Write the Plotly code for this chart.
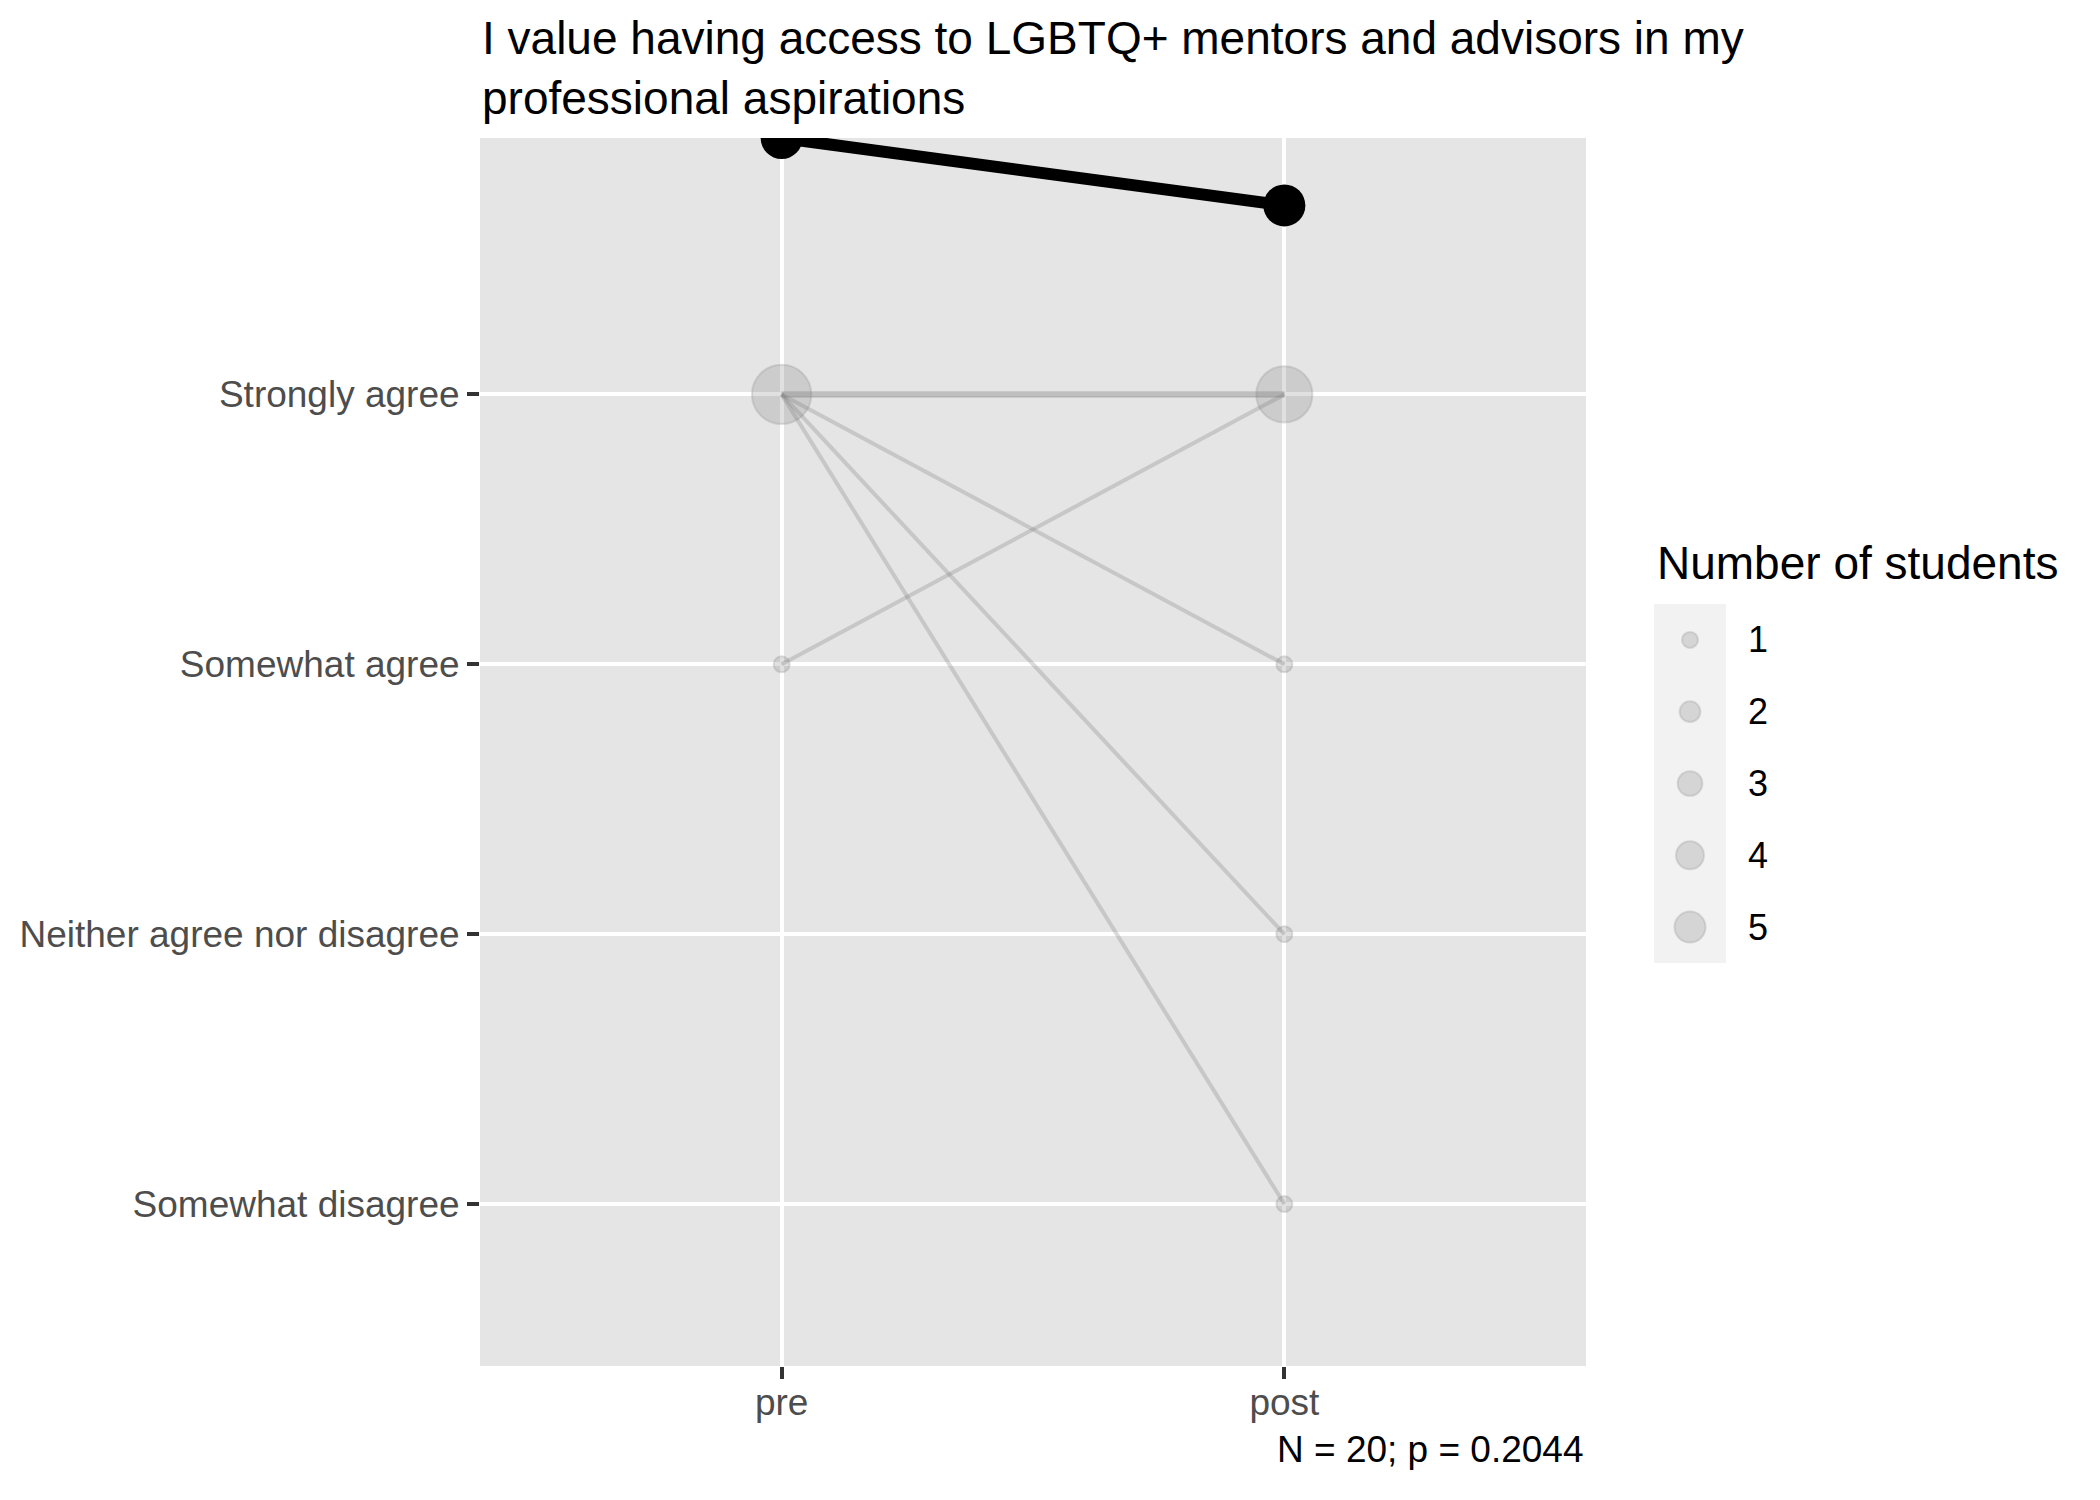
import numpy as np
import plotly.graph_objects as go

# ---- data ----
title_lines = ["I value having access to LGBTQ+ mentors and advisors in my",
               "professional aspirations"]
caption = "N = 20; p = 0.2044"

levels = ["Somewhat disagree", "Neither agree nor disagree", "Somewhat agree", "Strongly agree"]
times = ["pre", "post"]

# paired answers: pre level -> post level, number of students
move_pre = ["Strongly agree", "Strongly agree", "Strongly agree", "Strongly agree", "Somewhat agree"]
move_post = ["Strongly agree", "Somewhat agree", "Neither agree nor disagree", "Somewhat disagree", "Strongly agree"]
move_n = [16, 1, 1, 1, 1]

# mean score per time point
mean_score = [4.95, 4.70]

legend_n = [1, 2, 3, 4, 5]
legend_title = "Number of students"

FONT = "Liberation Sans, Arial, Helvetica, sans-serif"
W, H = 2100, 1500
GREY = "rgba(128,128,128,0.35)"

pos = {lvl: i + 1 for i, lvl in enumerate(levels)}


def dot_px(n):
    # area-like size scale
    return np.sqrt(133 + 191 * np.asarray(n, dtype=float)) - 2


fig = go.Figure()

# individual paths
for a, b, n in zip(move_pre, move_post, move_n):
    if n > 1:
        col, w = "rgba(128,128,128,0.5)", 6
    else:
        col, w = "rgba(128,128,128,0.3)", 4
    fig.add_trace(go.Scatter(x=times, y=[pos[a], pos[b]], mode="lines",
                             line=dict(color=col, width=w), showlegend=False,
                             hoverinfo="skip"))

# counts at each level
for t, side in zip(times, [move_pre, move_post]):
    counts = {}
    for lvl, n in zip(side, move_n):
        counts[lvl] = counts.get(lvl, 0) + n
    ys = [pos[l] for l in counts]
    ns = list(counts.values())
    fig.add_trace(go.Scatter(x=[t] * len(ys), y=ys, mode="markers",
                             marker=dict(size=dot_px(ns), color=GREY,
                                         line=dict(color=GREY, width=2)),
                             showlegend=False, text=ns))

# mean line
fig.add_trace(go.Scatter(x=times, y=mean_score, mode="lines+markers",
                         line=dict(color="black", width=12),
                         marker=dict(size=42, color="black"), showlegend=False))

# size legend drawn on its own small axes
fig.add_trace(go.Scatter(x=[0.5] * len(legend_n), y=legend_n, xaxis="x2", yaxis="y2",
                         mode="markers",
                         marker=dict(size=dot_px(legend_n), color=GREY,
                                     line=dict(color=GREY, width=2)),
                         showlegend=False, hoverinfo="skip"))

annotations = []
for n in legend_n:
    annotations.append(dict(x=1746 / W, xref="paper", y=n, yref="y2", text=str(n),
                            showarrow=False, xanchor="left", yanchor="middle",
                            font=dict(size=36, color="black", family=FONT)))
annotations.append(dict(x=1655 / W, xref="paper", y=1 - 563 / H, yref="paper",
                        text=legend_title, showarrow=False, xanchor="left", yanchor="middle",
                        font=dict(size=46, color="black", family=FONT)))
annotations.append(dict(x=1586 / W, xref="paper", y=1 - 1449 / H, yref="paper",
                        text=caption, showarrow=False, xanchor="right", yanchor="middle",
                        font=dict(size=37, color="black", family=FONT)))

fig.update_layout(
    width=W, height=H,
    margin=dict(l=0, r=0, t=0, b=0),
    paper_bgcolor="white", plot_bgcolor="#e5e5e5",
    font=dict(family=FONT, color="black"),
    title=dict(text="<br>".join(title_lines), x=482 / W, xanchor="left",
               y=1 - 54 / H, yanchor="top", yref="container",
               font=dict(size=46, color="black", family=FONT)),
    xaxis=dict(domain=[480 / W, 1586 / W], type="category", categoryorder="array",
               categoryarray=times, range=[-0.6, 1.6],
               showgrid=True, gridcolor="white", gridwidth=4, zeroline=False,
               ticks="outside", ticklen=12, tickwidth=4, tickcolor="#333333",
               ticklabelstandoff=-8,
               tickfont=dict(size=37, color="#4d4d4d", family=FONT)),
    yaxis=dict(domain=[1 - 1366 / H, 1 - 138 / H], range=[0.4, 4.95],
               tickvals=[pos[l] for l in levels], ticktext=levels,
               showgrid=True, gridcolor="white", gridwidth=4, zeroline=False,
               ticks="outside", ticklen=12, tickwidth=4, tickcolor="#333333",
               tickfont=dict(size=37, color="#4d4d4d", family=FONT)),
    xaxis2=dict(domain=[1654 / W, 1726 / W], range=[0, 1], anchor="y2",
                showgrid=False, zeroline=False, showticklabels=False, ticks=""),
    yaxis2=dict(domain=[1 - 963 / H, 1 - 604 / H], range=[5.5, 0.5], anchor="x2",
                showgrid=False, zeroline=False, showticklabels=False, ticks=""),
    shapes=[dict(type="rect", xref="x2 domain", yref="y2 domain", x0=0, x1=1, y0=0, y1=1,
                 fillcolor="#f2f2f2", line=dict(width=0), layer="below")],
    annotations=annotations,
)

# drop the page's default body margin so the figure sits at (0, 0)
fig.write_html("out.html", config={"displayModeBar": False},
               post_script="document.body.style.margin = '0';")
